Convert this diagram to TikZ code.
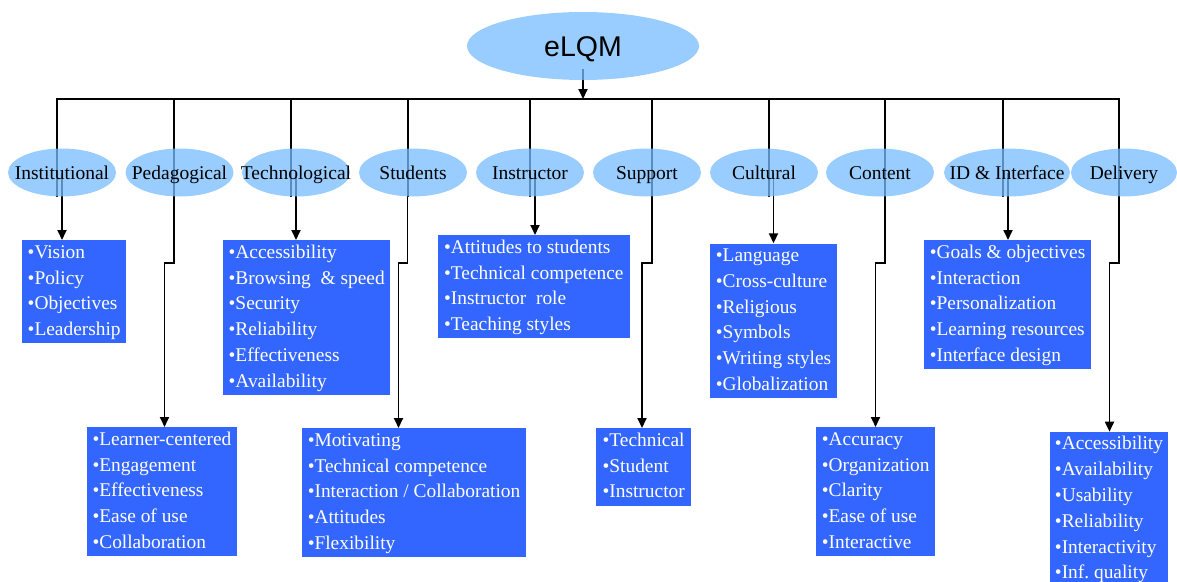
\documentclass[tikz,border=0pt]{standalone}
\usepackage{fontspec}
\setmainfont{Liberation Serif}
\newfontfamily\headfont{Liberation Sans}
\usetikzlibrary{shapes.geometric,arrows.meta,backgrounds}
\definecolor{ovalblue}{HTML}{77BBFF}
\definecolor{listblue}{HTML}{3366FF}
\newcommand{\itm}{\strut\textbullet}
\tikzset{
  oval/.style = {ellipse, fill=ovalblue, fill opacity=0.75, text opacity=1, inner sep=0pt},
  dim/.style = {oval, minimum height=48pt, text height=13pt, text depth=0pt,
    font=\fontsize{19.5}{23}\selectfont},
  list/.style = {fill=listblue, text=white, anchor=north west, align=left,
    inner xsep=2pt, inner ysep=0pt, font=\fontsize{19.4}{25.8}\selectfont},
  link/.style = {line width=1.8pt},
  arr/.style = {link, -{Triangle[length=10pt,width=9pt]}}
}

\begin{document}
\begin{tikzpicture}[x=1pt,y=-1pt]
  \useasboundingbox (0,0) rectangle (1177,581);
  \clip (0,0) rectangle (1177,581);
  \node[oval, minimum width=232pt, minimum height=68pt, text height=20.5pt, text depth=0pt,
    font=\headfont\fontsize{28.5}{34}\selectfont] (elqm) at (583,46) {eLQM};
  \coordinate (bar) at (583,99);
  % the ten dimensions
  \foreach \nm/\cx/\w/\lab in {inst/62/108/Institutional, ped/179.5/108/Pedagogical,
      tech/296/108/Technological, stud/413/108/Students, instr/530/108/Instructor,
      supp/647/108/Support, cult/764/108/Cultural, cont/880/108/Content,
      idint/1007/126/ID \& Interface, deliv/1124/106/Delivery}
    \node[dim, minimum width=\w pt] (\nm) at (\cx,172.5) {\makebox[0pt]{\lab}};
  % item lists
  \node[list, minimum width=104pt] (inst-box) at (22,240)
    {\itm Vision\\\itm Policy\\\itm Objectives\\\itm Leadership};
  \node[list, minimum width=149.5pt] (ped-box) at (87,427)
    {\itm Learner-centered\\\itm Engagement\\\itm Effectiveness\\\itm Ease of use\\\itm Collaboration};
  \node[list, minimum width=167pt] (tech-box) at (223,240)
    {\itm Accessibility\\\itm Browsing~ \& speed\\\itm Security\\\itm Reliability\\\itm Effectiveness\\\itm Availability};
  \node[list, minimum width=224.5pt] (stud-box) at (301.6,428)
    {\itm Motivating\\\itm Technical competence\\\itm Interaction / Collaboration\\\itm Attitudes\\\itm Flexibility};
  \node[list, minimum width=192.7pt] (instr-box) at (437.3,235)
    {\itm Attitudes to students\\\itm Technical competence\\\itm Instructor~ role\\\itm Teaching styles};
  \node[list, minimum width=95pt] (supp-box) at (596,428)
    {\itm Technical\\\itm Student\\\itm Instructor};
  \node[list, minimum width=126.7pt] (cult-box) at (710,243.3)
    {\itm Language\\\itm Cross-culture\\\itm Religious\\\itm Symbols\\\itm Writing styles\\\itm Globalization};
  \node[list, minimum width=119pt] (cont-box) at (816,427)
    {\itm Accuracy\\\itm Organization\\\itm Clarity\\\itm Ease of use\\\itm Interactive};
  \node[list, minimum width=166.7pt] (idint-box) at (924,240)
    {\itm Goals \& objectives\\\itm Interaction\\\itm Personalization\\\itm Learning resources\\\itm Interface design};
  \node[list, minimum width=117.6pt] (deliv-box) at (1050,431.7)
    {\itm Accessibility\\\itm Availability\\\itm Usability\\\itm Reliability\\\itm Interactivity\\\itm Inf.\ quality};
  % connectors, under the ovals
  \begin{scope}[on background layer]
    \draw[arr] ([yshift=11pt]elqm.south) -- (bar);
    \draw[link] (57,0 |- inst.south) |- (bar) -| (1119,0 |- deliv.south);
    \foreach \nm/\dx in {inst/57, ped/174, tech/291, stud/408, instr/530, supp/652,
        cult/769, cont/885, idint/1003, deliv/1119}
      \draw[link] (\dx,0 |- bar) -- (\dx,0 |- \nm.south);
    % straight down to the upper lists
    \foreach \nm/\bx in {inst/62, tech/296, instr/535, cult/773.5, idint/1008}
      \draw[arr] (\bx,0 |- \nm.center) -- (\bx,0 |- \nm-box.north);
    % with a step to the lower lists
    \foreach \nm/\bx/\jx in {ped/174/164.5, stud/407.5/398.5, supp/652/642,
        cont/885/875.5, deliv/1119/1109.5}
      \draw[arr] (\bx,0 |- \nm.center) -- (\bx,262.7) -- (\jx,262.7) -- (\jx,0 |- \nm-box.north);
  \end{scope}
\end{tikzpicture}
\end{document}
